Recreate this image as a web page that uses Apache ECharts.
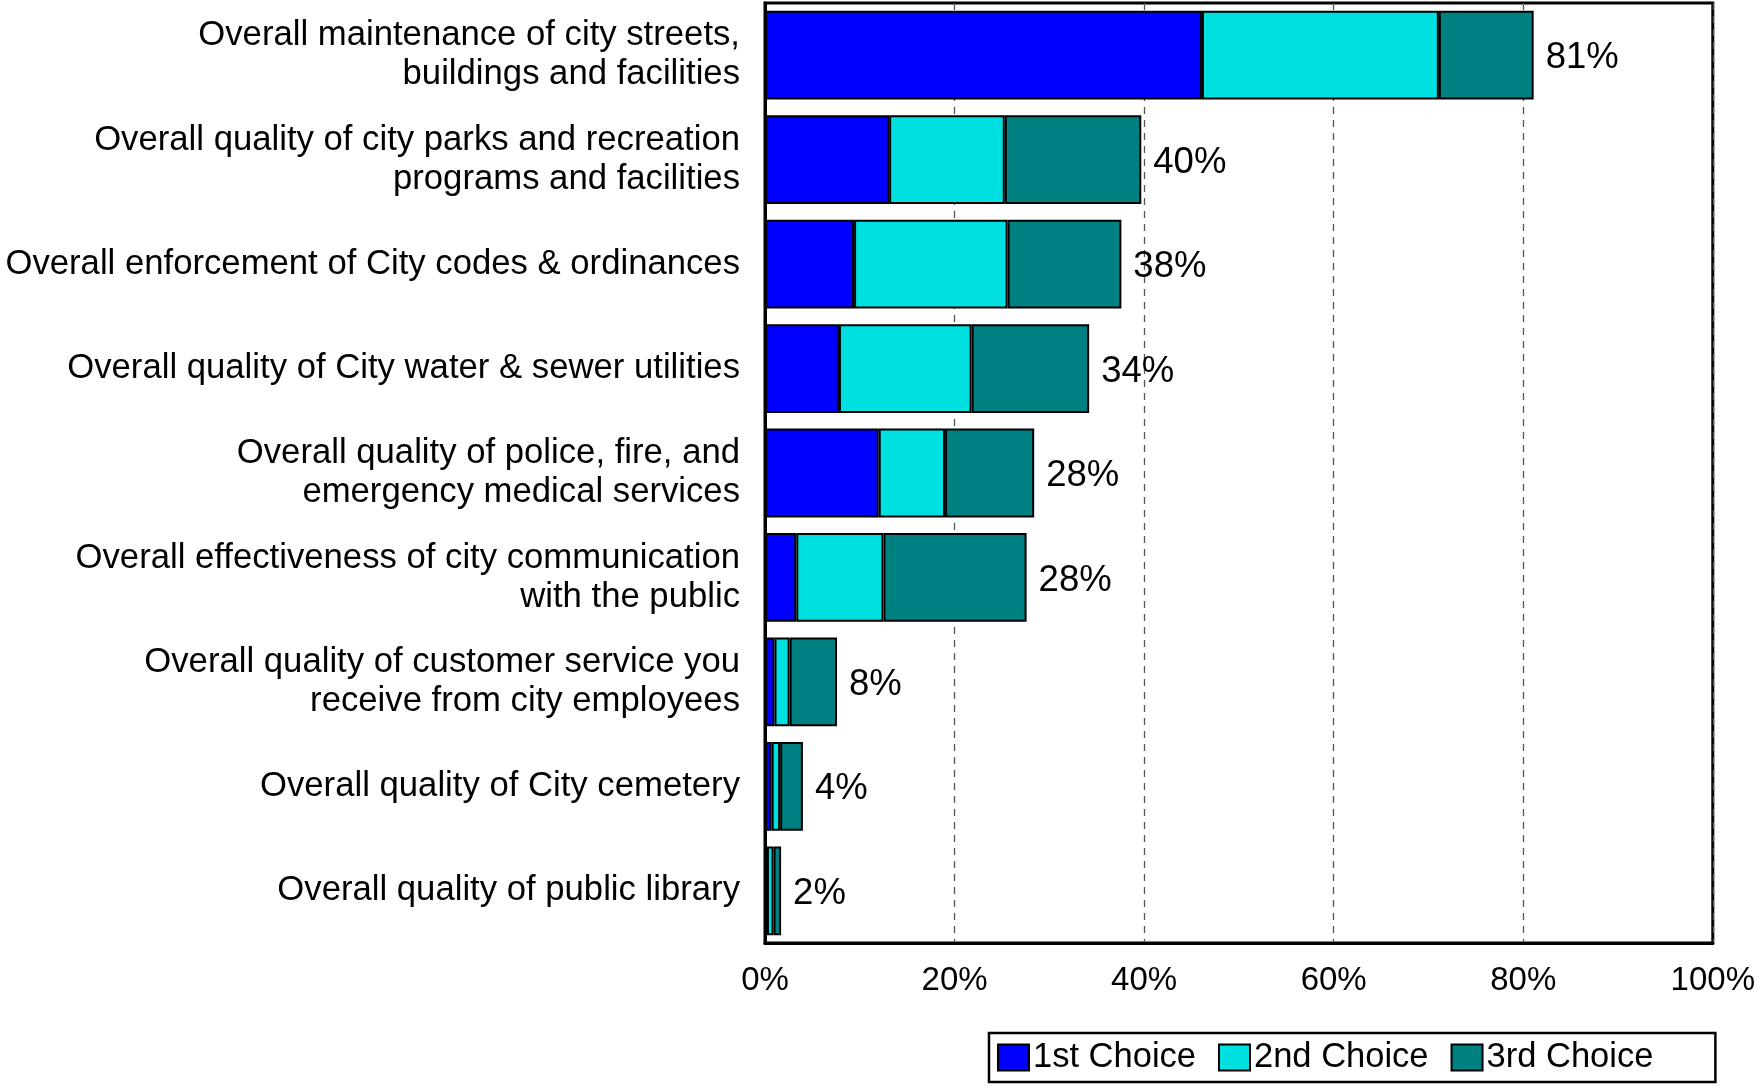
<!DOCTYPE html>
<html>
<head>
<meta charset="utf-8">
<script src="https://cdn.jsdelivr.net/npm/echarts@6/dist/echarts.min.js"></script>
<style>
  html, body { margin: 0; padding: 0; background: #fff; }
  #chart { width: 1758px; height: 1086px; }
</style>
</head>
<body>
<div id="chart"></div>
<script>
// Service areas, in the order they are listed top to bottom
const categories = [
  'Overall maintenance of city streets,\nbuildings and facilities',
  'Overall quality of city parks and recreation\nprograms and facilities',
  'Overall enforcement of City codes & ordinances',
  'Overall quality of City water & sewer utilities',
  'Overall quality of police, fire, and\nemergency medical services',
  'Overall effectiveness of city communication\nwith the public',
  'Overall quality of customer service you\nreceive from city employees',
  'Overall quality of City cemetery',
  'Overall quality of public library'
];

// Percent of respondents choosing each item
const firstChoice  = [46.1, 13.1,  9.4,  7.8, 12.0,  3.3, 1.0, 0.7, 0.2];
const secondChoice = [25.0, 12.2, 16.2, 14.0,  7.0,  9.2, 1.6, 0.9, 0.7];
const thirdChoice  = [10.0, 14.4, 12.0, 12.4,  9.4, 15.1, 5.0, 2.4, 0.8];

const seriesNames = ['1st Choice', '2nd Choice', '3rd Choice'];
const xTicks = [0, 20, 40, 60, 80, 100];

const totals = firstChoice.map((v, i) => v + secondChoice[i] + thirdChoice[i]);

const FONT = '"Liberation Sans", Arial, Helvetica, sans-serif';
const colors = ['#0000FF', '#00E0E0', '#008080'];

const chart = echarts.init(document.getElementById('chart'), null, { renderer: 'canvas' });

function barSeries(name, data, idx, withLabel) {
  return {
    name: name,
    type: 'bar',
    stack: 'total',
    data: data,
    barCategoryGap: '15%',
    itemStyle: { color: colors[idx], borderColor: '#000', borderWidth: 2 },
    emphasis: { disabled: true },
    label: withLabel ? {
      show: true,
      position: 'right',
      distance: 12,
      offset: [0, 3],
      fontFamily: FONT,
      fontSize: 36.5,
      color: '#000',
      formatter: p => Math.round(totals[p.dataIndex]) + '%'
    } : { show: false }
  };
}

chart.setOption({
  animation: false,
  backgroundColor: '#fff',
  textStyle: { fontFamily: FONT },
  grid: {
    left: 765, right: 42, top: 3, bottom: 143,
    show: true, borderColor: '#000', borderWidth: 3
  },
  legend: {
    data: seriesNames,
    left: 989,
    top: 1033,
    orient: 'horizontal',
    icon: 'rect',
    itemWidth: 31,
    itemHeight: 26,
    itemGap: 22,
    padding: [7, 62, 7, 8],
    borderColor: '#000',
    borderWidth: 2.5,
    textStyle: { fontFamily: FONT, fontSize: 34.5, color: '#000', padding: [0, 0, 0, -1] }
  },
  xAxis: {
    type: 'value',
    min: xTicks[0],
    max: xTicks[xTicks.length - 1],
    interval: xTicks[1] - xTicks[0],
    axisLine: { show: true, lineStyle: { color: '#000', width: 3 } },
    axisTick: { show: false },
    splitLine: { show: true, lineStyle: { color: '#555', width: 1.3, type: [7, 6] } },
    axisLabel: {
      formatter: '{value}%',
      fontFamily: FONT, fontSize: 33, color: '#000', margin: 21
    }
  },
  yAxis: {
    type: 'category',
    inverse: true,
    data: categories,
    axisLine: { show: true, lineStyle: { color: '#000', width: 3 } },
    axisTick: { show: false },
    axisLabel: {
      fontFamily: FONT, fontSize: 34.7, lineHeight: 39, color: '#000',
      margin: 25, align: 'right'
    }
  },
  series: [
    barSeries(seriesNames[0], firstChoice, 0, false),
    barSeries(seriesNames[1], secondChoice, 1, false),
    barSeries(seriesNames[2], thirdChoice, 2, true)
  ]
});
</script>
</body>
</html>
